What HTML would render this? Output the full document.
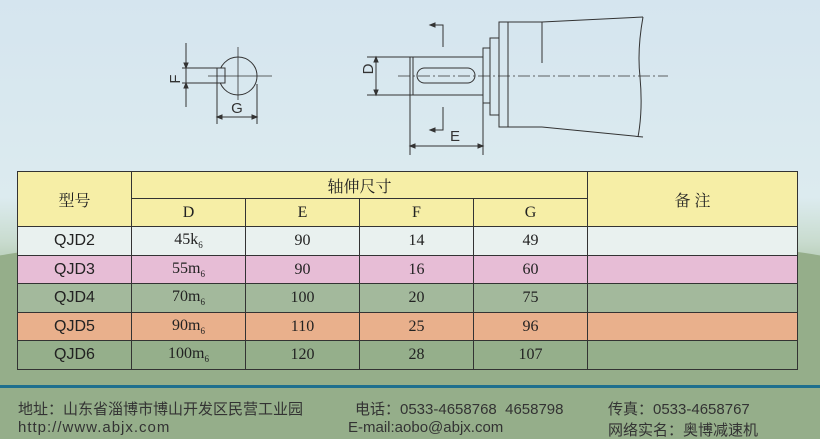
<!DOCTYPE html>
<html style="overflow:hidden;width:820px;height:439px"><head><meta charset="utf-8"><style>
body{margin:0;width:820px;height:439px;overflow:hidden;position:relative;font-family:"Liberation Sans","Noto Sans CJK SC",sans-serif;
background:linear-gradient(180deg,#d5e5ef 0%,#dcebef 45%,#c9dccf 55%,#a6bea0 65%,#93ad8a 80%,#a4bb98 100%);}
.hill{position:absolute;left:-100px;top:230px;width:1020px;height:209px;border-radius:50% 50% 0 0/30% 30% 0 0;background:#95ae8a;}
.hill2{position:absolute;left:140px;top:270px;width:560px;height:60px;border-radius:50%;background:#e6f0ee;}
table{position:absolute;left:17px;top:171px;border-collapse:collapse;font-family:"Liberation Serif","Noto Serif CJK SC",serif;font-size:16px;color:#222}
td{border:1.3px solid #333;text-align:center;padding:0}
.h td{background:#f6eea6}
.m{font-family:"Liberation Sans",sans-serif;font-size:16px}
sub{font-size:9px}
.ft{position:absolute;font-size:15px;color:#333;white-space:nowrap}
</style></head><body>
<div class="hill"></div><div class="hill2"></div>
<svg style="position:absolute;left:0;top:0" width="820" height="170" stroke="#333" fill="none" stroke-width="1">
<circle cx="238" cy="76" r="19"/>
<rect x="217" y="68" width="8" height="15" fill="#d5e5ef"/>
<line x1="208" y1="76" x2="272" y2="76" stroke-width="0.8"/>
<line x1="238" y1="47" x2="238" y2="100" stroke-width="0.8"/>
<line x1="186" y1="43" x2="186" y2="107"/>
<line x1="182" y1="68" x2="217" y2="68"/><line x1="182" y1="83" x2="217" y2="83"/>
<line x1="217" y1="83" x2="217" y2="124"/><line x1="257" y1="84" x2="257" y2="124"/>
<line x1="217" y1="117" x2="257" y2="117"/>
<path d="M186 68l-2-5h4z M186 83l-2 5h4z M217 117l5-2v4z M257 117l-5-2v4z" fill="#333"/>
<rect x="410" y="57" width="73" height="38"/>
<line x1="413" y1="57" x2="413" y2="95"/>
<rect x="417" y="68" width="58" height="15" rx="7.5"/>
<rect x="483" y="48" width="7" height="55"/>
<rect x="490" y="38" width="9" height="77"/>
<rect x="499" y="22" width="9" height="105"/>
<line x1="508" y1="22" x2="542" y2="22"/><line x1="508" y1="127" x2="542" y2="127"/>
<line x1="542" y1="22" x2="542" y2="63"/>
<line x1="542" y1="22" x2="643" y2="17"/><line x1="542" y1="127" x2="643" y2="137"/>
<path d="M643 17 Q637 50 640 77 Q643 110 638 137"/>
<line x1="398" y1="76" x2="668" y2="76" stroke-dasharray="12,3,2,3" stroke-width="0.8"/>
<line x1="367" y1="57" x2="410" y2="57"/><line x1="367" y1="95" x2="410" y2="95"/>
<line x1="376" y1="57" x2="376" y2="95"/>
<path d="M376 57l-2 5h4z M376 95l-2-5h4z" fill="#333"/>
<polyline points="430,25 443,25 443,47"/><path d="M430 25l5-2v4z" fill="#333"/>
<polyline points="430,130 443,130 443,107"/><path d="M430 130l5-2v4z" fill="#333"/>
<line x1="410" y1="95" x2="410" y2="155"/><line x1="483" y1="103" x2="483" y2="155"/>
<line x1="410" y1="146" x2="483" y2="146"/>
<path d="M410 146l5-2v4z M483 146l-5-2v4z" fill="#333"/>
<g fill="#333" stroke="none" font-family="Liberation Sans" font-size="15">
<text x="173" y="80" transform="rotate(-90 176 76)" text-anchor="middle">F</text>
<text x="237" y="113" text-anchor="middle">G</text>
<text x="371" y="77" transform="rotate(-90 368 72)" text-anchor="middle">D</text>
<text x="455" y="141" text-anchor="middle">E</text>
</g>
</svg>
<table>
<colgroup><col width="114"><col width="114"><col width="114"><col width="114"><col width="114"><col width="210"></colgroup>
<tr class="h" style="height:27px"><td rowspan="2" style="font-family:'Noto Serif CJK SC',serif">型号</td><td colspan="4" style="font-family:'Noto Serif CJK SC',serif">轴伸尺寸</td><td rowspan="2" style="font-family:'Noto Serif CJK SC',serif">备 注</td></tr>
<tr class="h" style="height:28px"><td>D</td><td>E</td><td>F</td><td>G</td></tr>
<tr style="height:29px;background:#e9f1ef"><td class="m">QJD2</td><td>45k<sub>6</sub></td><td>90</td><td>14</td><td>49</td><td></td></tr>
<tr style="height:28px;background:#e7bdd6"><td class="m">QJD3</td><td>55m<sub>6</sub></td><td>90</td><td>16</td><td>60</td><td></td></tr>
<tr style="height:29px;background:#a3b99c"><td class="m">QJD4</td><td>70m<sub>6</sub></td><td>100</td><td>20</td><td>75</td><td></td></tr>
<tr style="height:28px;background:#e9b08c"><td class="m">QJD5</td><td>90m<sub>6</sub></td><td>110</td><td>25</td><td>96</td><td></td></tr>
<tr style="height:29px;background:#95af8b"><td class="m">QJD6</td><td>100m<sub>6</sub></td><td>120</td><td>28</td><td>107</td><td></td></tr>
</table>
<div style="position:absolute;left:0;top:385px;width:820px;height:3px;background:#1e6f8e"></div>
<div class="ft" style="left:18px;top:398px">地址：山东省淄博市博山开发区民营工业园</div>
<div class="ft" style="left:355px;top:398px">电话：0533-4658768 &nbsp;4658798</div>
<div class="ft" style="left:608px;top:398px">传真：0533-4658767</div>
<div class="ft" style="left:18px;top:419px;letter-spacing:1px">http://www.abjx.com</div>
<div class="ft" style="left:348px;top:419px">E-mail:aobo@abjx.com</div>
<div class="ft" style="left:608px;top:419px">网络实名：奥博减速机</div>
</body></html>
